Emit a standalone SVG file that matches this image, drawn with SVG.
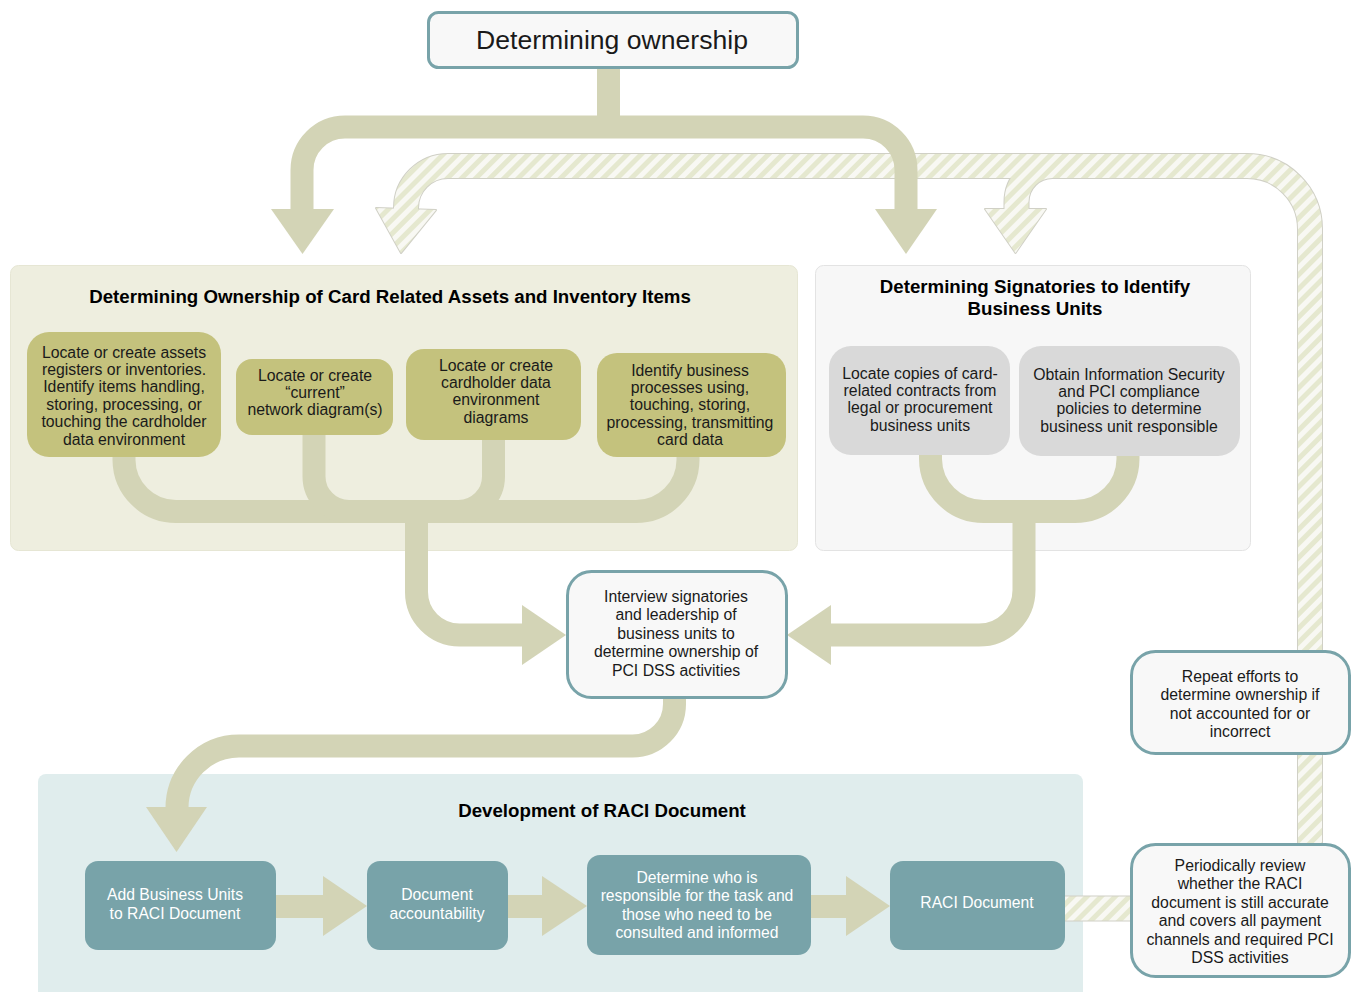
<svg xmlns="http://www.w3.org/2000/svg" width="1355" height="992" viewBox="0 0 1355 992">
<defs>
<pattern id="stripes" width="10" height="10" patternUnits="userSpaceOnUse" patternTransform="rotate(45)">
<rect width="10" height="10" fill="#f8f8f3"/>
<rect width="5" height="10" fill="#e5e8cf"/>
</pattern>
<style>
text{font-family:"Liberation Sans",Arial,sans-serif;fill:#1a1a1a;text-anchor:middle}
.t15{font-size:15.8px}
.title{font-size:18.7px;font-weight:bold;fill:#000}
.wt{fill:#ffffff;font-size:15.7px}
.solid{fill:none;stroke:#d3d4b6;stroke-width:23}
.ah{fill:#d3d4b6}
.sline{fill:none;stroke:#d0d0c6;stroke-width:26}
.sfill{fill:none;stroke:url(#stripes);stroke-width:24}
.olive{fill:#c4c27d}
.gray{fill:#d9d9d9}
.teal{fill:#78a3a9}
.white{fill:#f8f8f8;stroke:#78a3a9;stroke-width:3}
</style>
</defs>
<rect width="1355" height="992" fill="#ffffff"/>

<g id="panels">
<g id="panel-assets">
<rect x="10.5" y="265.5" width="787" height="285" rx="8" fill="#eeeedf" stroke="#e6e6d4"/>
<text class="title" x="390" y="303">Determining Ownership of Card Related Assets and Inventory Items</text>
</g>
<g id="panel-signatories">
<rect x="815.5" y="265.5" width="435" height="285" rx="8" fill="#f7f7f7" stroke="#e3e3e3"/>
<text class="title" x="1035" y="293">Determining Signatories to Identify</text>
<text class="title" x="1035" y="315">Business Units</text>
</g>
<g id="panel-raci">
<rect x="38" y="774" width="1045" height="230" rx="8" fill="#e0eded"/>
<text class="title" x="602" y="817">Development of RACI Document</text>
</g>
</g>

<g id="connectors">
<!-- striped feedback loop -->
<path class="sline" d="M1310 850 L1310 229 A63 63 0 0 0 1247 166 L448 166 A42 42 0 0 0 406 208 L406 212"/>
<path class="sline" d="M1052.5 166 A36 36 0 0 0 1016.5 202 L1016.5 212"/>
<path class="sline" d="M1063 908.5 L1133 908.5"/>
<polygon points="376,208 436,210 401,253" fill="#d0d0c6" stroke="#d0d0c6" stroke-width="2" stroke-linejoin="round"/>
<polygon points="985,209 1046,209 1015.5,253" fill="#d0d0c6" stroke="#d0d0c6" stroke-width="2" stroke-linejoin="round"/>
<path class="sfill" d="M1310 850 L1310 229 A63 63 0 0 0 1247 166 L448 166 A42 42 0 0 0 406 208 L406 212"/>
<path class="sfill" d="M1052.5 166 A36 36 0 0 0 1016.5 202 L1016.5 212"/>
<path class="sfill" d="M1063 908.5 L1133 908.5"/>
<polygon points="376,208 436,210 401,253" fill="url(#stripes)"/>
<polygon points="985,209 1046,209 1015.5,253" fill="url(#stripes)"/>

<!-- top split -->
<path class="solid" d="M608.5 66 L608.5 127"/>
<path class="solid" d="M302 212 L302 170 A43 43 0 0 1 345 127 L863 127 A43 43 0 0 1 906 170 L906 212"/>
<polygon class="ah" points="271,209 334,209 302.5,254"/>
<polygon class="ah" points="875,209 937,209 906,254"/>

<!-- assets merge -->
<path class="solid" d="M124 455 L124 460 A52 52 0 0 0 176 511.5 L636 511.5 A52 52 0 0 0 688 460 L688 455"/>
<path class="solid" d="M314 433 L314 476.5 A35 35 0 0 0 349 511.5"/>
<path class="solid" d="M493.5 438 L493.5 476.5 A35 35 0 0 1 458.5 511.5"/>
<path class="solid" d="M416.5 511 L416.5 592 A43 43 0 0 0 459.5 635 L525 635"/>
<polygon class="ah" points="522,605 522,665 566,635"/>

<!-- signatories merge -->
<path class="solid" d="M930.5 453 L930.5 459 A53 53 0 0 0 983.5 511.5 L1075 511.5 A53 53 0 0 0 1128 459 L1128 453"/>
<path class="solid" d="M1024 511 L1024 590 A45 45 0 0 1 979 635 L829 635"/>
<polygon class="ah" points="831,605 831,665 787,635"/>

<!-- interview to RACI -->
<path class="solid" d="M674.5 696 L674.5 704 A42 42 0 0 1 632.5 746 L239 746 A62 62 0 0 0 177 808 L177 810"/>
<polygon class="ah" points="146,807 207,807 176.5,852"/>

<!-- RACI chain -->
<path class="solid" d="M274 906.5 L326 906.5"/>
<polygon class="ah" points="323,876 323,936 367,906"/>
<path class="solid" d="M506 906.5 L545 906.5"/>
<polygon class="ah" points="542,876 542,936 587,906"/>
<path class="solid" d="M809 906.5 L849 906.5"/>
<polygon class="ah" points="846,876 846,936 890,906"/>
</g>

<g id="node-determining-ownership">
<rect class="white" x="428.5" y="12.5" width="369" height="55" rx="10"/>
<text x="612" y="49" style="font-size:26.6px">Determining ownership</text>
</g>

<g id="node-assets-registers">
<rect class="olive" x="27" y="332" width="194" height="125" rx="22"/>
<text class="t15"><tspan x="124" y="357.5">Locate or create assets</tspan><tspan x="124" y="374.9">registers or inventories.</tspan><tspan x="124" y="392.3">Identify items handling,</tspan><tspan x="124" y="409.7">storing, processing, or</tspan><tspan x="124" y="427.1">touching the cardholder</tspan><tspan x="124" y="444.5">data environment</tspan></text>
</g>
<g id="node-network-diagrams">
<rect class="olive" x="236" y="359" width="157" height="76" rx="16"/>
<text class="t15"><tspan x="315" y="380.5">Locate or create</tspan><tspan x="315" y="397.9">“current”</tspan><tspan x="315" y="415.3">network diagram(s)</tspan></text>
</g>
<g id="node-cde-diagrams">
<rect class="olive" x="406" y="349" width="175" height="91" rx="18"/>
<text class="t15"><tspan x="496" y="370.5">Locate or create</tspan><tspan x="496" y="387.9">cardholder data</tspan><tspan x="496" y="405.3">environment</tspan><tspan x="496" y="422.7">diagrams</tspan></text>
</g>
<g id="node-business-processes">
<rect class="olive" x="597" y="353" width="189" height="104" rx="20"/>
<text class="t15"><tspan x="690" y="375.5">Identify business</tspan><tspan x="690" y="392.9">processes using,</tspan><tspan x="690" y="410.3">touching, storing,</tspan><tspan x="690" y="427.7">processing, transmitting</tspan><tspan x="690" y="445.1">card data</tspan></text>
</g>

<g id="node-contracts">
<rect class="gray" x="829" y="346" width="181" height="109" rx="22"/>
<text class="t15"><tspan x="920" y="378.5">Locate copies of card-</tspan><tspan x="920" y="395.9">related contracts from</tspan><tspan x="920" y="413.3">legal or procurement</tspan><tspan x="920" y="430.7">business units</tspan></text>
</g>
<g id="node-policies">
<rect class="gray" x="1019" y="346" width="221" height="110" rx="22"/>
<text class="t15"><tspan x="1129" y="379.5">Obtain Information Security</tspan><tspan x="1129" y="396.9">and PCI compliance</tspan><tspan x="1129" y="414.3">policies to determine</tspan><tspan x="1129" y="431.7">business unit responsible</tspan></text>
</g>

<g id="node-interview">
<rect class="white" x="567.5" y="571.5" width="219" height="126" rx="24"/>
<text class="t15"><tspan x="676" y="601.5">Interview signatories</tspan><tspan x="676" y="620">and leadership of</tspan><tspan x="676" y="638.5">business units to</tspan><tspan x="676" y="657">determine ownership of</tspan><tspan x="676" y="675.5">PCI DSS activities</tspan></text>
</g>

<g id="node-repeat">
<rect class="white" x="1131.5" y="651.5" width="218" height="102" rx="24"/>
<text class="t15"><tspan x="1240" y="681.5">Repeat efforts to</tspan><tspan x="1240" y="700">determine ownership if</tspan><tspan x="1240" y="718.5">not accounted for or</tspan><tspan x="1240" y="737">incorrect</tspan></text>
</g>

<g id="node-add-units">
<rect class="teal" x="85" y="861" width="191" height="89" rx="13"/>
<text class="wt"><tspan x="175" y="899.5">Add Business Units</tspan><tspan x="175" y="918.5">to RACI Document</tspan></text>
</g>
<g id="node-accountability">
<rect class="teal" x="367" y="861" width="141" height="89" rx="13"/>
<text class="wt"><tspan x="437" y="899.5">Document</tspan><tspan x="437" y="918.5">accountability</tspan></text>
</g>
<g id="node-responsible">
<rect class="teal" x="587" y="855" width="224" height="100" rx="13"/>
<text class="wt"><tspan x="697" y="882.5">Determine who is</tspan><tspan x="697" y="901">responsible for the task and</tspan><tspan x="697" y="919.5">those who need to be</tspan><tspan x="697" y="938">consulted and informed</tspan></text>
</g>
<g id="node-raci-document">
<rect class="teal" x="890" y="861" width="175" height="89" rx="13"/>
<text class="wt" x="977" y="907.5">RACI Document</text>
</g>

<g id="node-periodic-review">
<rect class="white" x="1131.5" y="844.5" width="218" height="132" rx="24"/>
<text class="t15"><tspan x="1240" y="870.5">Periodically review</tspan><tspan x="1240" y="889">whether the RACI</tspan><tspan x="1240" y="907.5">document is still accurate</tspan><tspan x="1240" y="926">and covers all payment</tspan><tspan x="1240" y="944.5">channels and required PCI</tspan><tspan x="1240" y="963">DSS activities</tspan></text>
</g>
</svg>
